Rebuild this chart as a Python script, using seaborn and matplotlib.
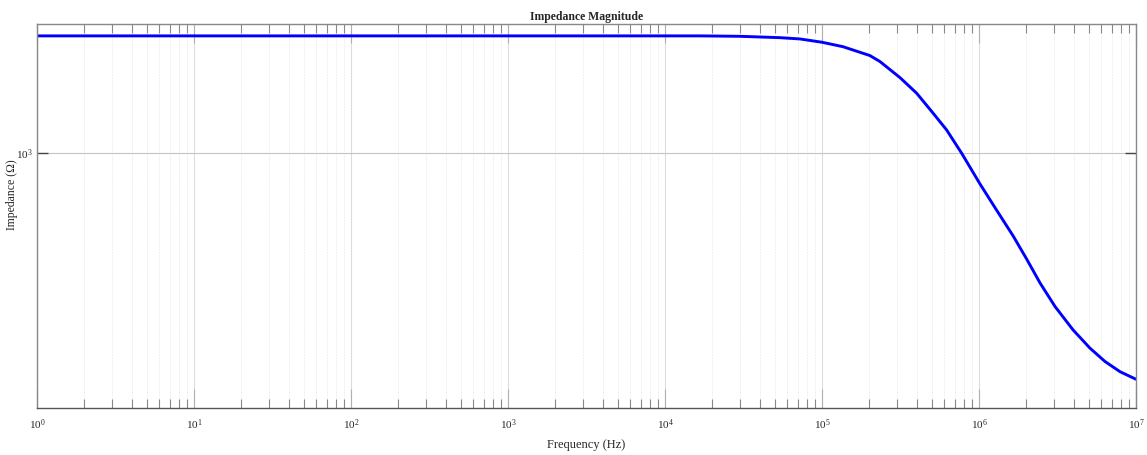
import numpy as np
import pandas as pd
import matplotlib
matplotlib.use("Agg")
import matplotlib.pyplot as plt
import seaborn as sns
from matplotlib.ticker import LogLocator, NullLocator, FixedLocator, NullFormatter

# values (frequency in Hz, |Z| in ohm)
freq_hz = [1e0, 1e1, 1e2, 1e3, 1e4, 1.67e4, 3.0e4, 5.4e4, 7.24e4,
           1.0e5, 1.36e5, 2.02e5, 2.34e5, 3.14e5, 4.01e5, 5.09e5,
           6.22e5, 7.76e5, 1.01e6, 1.28e6, 1.65e6, 2.01e6, 2.45e6,
           3.05e6, 3.97e6, 5.09e6, 6.35e6, 7.91e6, 1.0e7]
impedance_ohm = [2000, 2000, 2000, 2000, 2000, 2000, 1995, 1979, 1964,
                 1926, 1876, 1780, 1718, 1562, 1424, 1267,
                 1146, 998, 835, 718, 612, 534, 463,
                 403, 351, 315, 291, 274, 262]

df = pd.DataFrame({"freq": freq_hz, "z": impedance_ohm})

sns.set_theme(style="white")
plt.rcParams["font.family"] = ["Liberation Serif", "DejaVu Serif"]
plt.rcParams["mathtext.fontset"] = "stix"

fig = plt.figure(figsize=(11.47, 4.55), dpi=100)
ax = fig.add_axes([0.0323, 0.1033, 0.9581, 0.8440])

sns.lineplot(data=df, x="freq", y="z", ax=ax, color="#0000ff",
             linewidth=2.1, sort=False)

ax.set_xscale("log")
ax.set_yscale("log")
ax.set_xlim(1e0, 1e7)
ax.set_ylim(221, 2146)

ax.xaxis.set_major_locator(LogLocator(base=10, numticks=20))
ax.xaxis.set_minor_locator(LogLocator(base=10, subs=np.arange(2, 10), numticks=20))
ax.xaxis.set_minor_formatter(NullFormatter())
ax.yaxis.set_major_locator(FixedLocator([1e3]))
ax.yaxis.set_minor_locator(NullLocator())

ax.grid(which="major", axis="x", color="#dcdcdc", linewidth=0.8)
ax.grid(which="minor", axis="x", color="#f0f0f0", linewidth=0.7, linestyle=(0, (2, 1)))
ax.grid(which="major", axis="y", color="#c4c4c4", linewidth=0.8)

ax.tick_params(which="major", axis="x", direction="in", length=14, width=0.8,
               color="#b0b0b0", top=True, bottom=True, labelsize=8, pad=7)
ax.tick_params(which="minor", axis="x", direction="in", length=6.5, width=0.8,
               color="#888888", top=True, bottom=True)
ax.tick_params(which="major", axis="y", direction="in", length=8, width=1.0,
               color="#444444", left=True, right=True, labelsize=8, pad=3)

for sp in ax.spines.values():
    sp.set_color("#888888")
    sp.set_linewidth(1.0)
ax.spines["bottom"].set_color("#555555")

ax.set_title("Impedance Magnitude", fontsize=8.5, fontweight="bold", pad=3)
ax.set_xlabel("Frequency (Hz)", fontsize=9, labelpad=5)
ax.set_ylabel("Impedance (Ω)", fontsize=8.5)
ax.yaxis.set_label_coords(-0.017, 0.555)

fig.savefig("out.png", dpi=100)
